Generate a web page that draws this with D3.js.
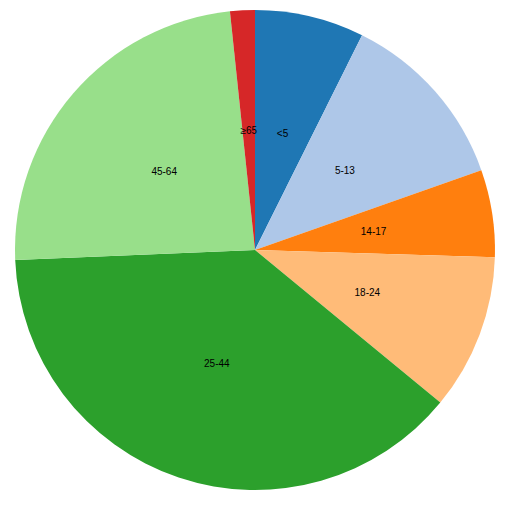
<!DOCTYPE html>
<meta charset="utf-8">
<style>
  body { margin: 0; }
  .arc text { font: 10px sans-serif; text-anchor: middle; }
</style>
<body>
<script src="https://cdn.jsdelivr.net/npm/d3@7"></script>
<script>

var ages = ["<5", "5-13", "14-17", "18-24", "25-44", "45-64", "≥65"];
var population = [2704659, 4499890, 2159981, 3853788, 14106543, 8819342, 612463];
var colors = ["#1f77b4", "#aec7e8", "#ff7f0e", "#ffbb78", "#2ca02c", "#98df8a", "#d62728"];

var width = 510,
    height = 500,
    radius = Math.min(width, height) / 2 - 10;

var data = ages.map((a, i) => ({ age: a, population: population[i] }));

var color = d3.scaleOrdinal()
    .domain(ages)
    .range(colors);

var arc = d3.arc()
    .outerRadius(radius)
    .innerRadius(0);

var labelArc = d3.arc()
    .outerRadius(radius)
    .innerRadius(0);

var pie = d3.pie()
    .sort(null)
    .value(d => d.population);

var svg = d3.select("body").append("svg")
    .attr("width", width)
    .attr("height", height)
  .append("g")
    .attr("transform", "translate(" + width / 2 + "," + height / 2 + ")");

var g = svg.selectAll(".arc")
    .data(pie(data))
  .enter().append("g")
    .attr("class", "arc");

g.append("path")
    .attr("d", arc)
    .style("fill", d => color(d.data.age));

g.append("text")
    .attr("transform", d => "translate(" + labelArc.centroid(d) + ")")
    .attr("dy", ".35em")
    .text(d => d.data.age);

</script>
